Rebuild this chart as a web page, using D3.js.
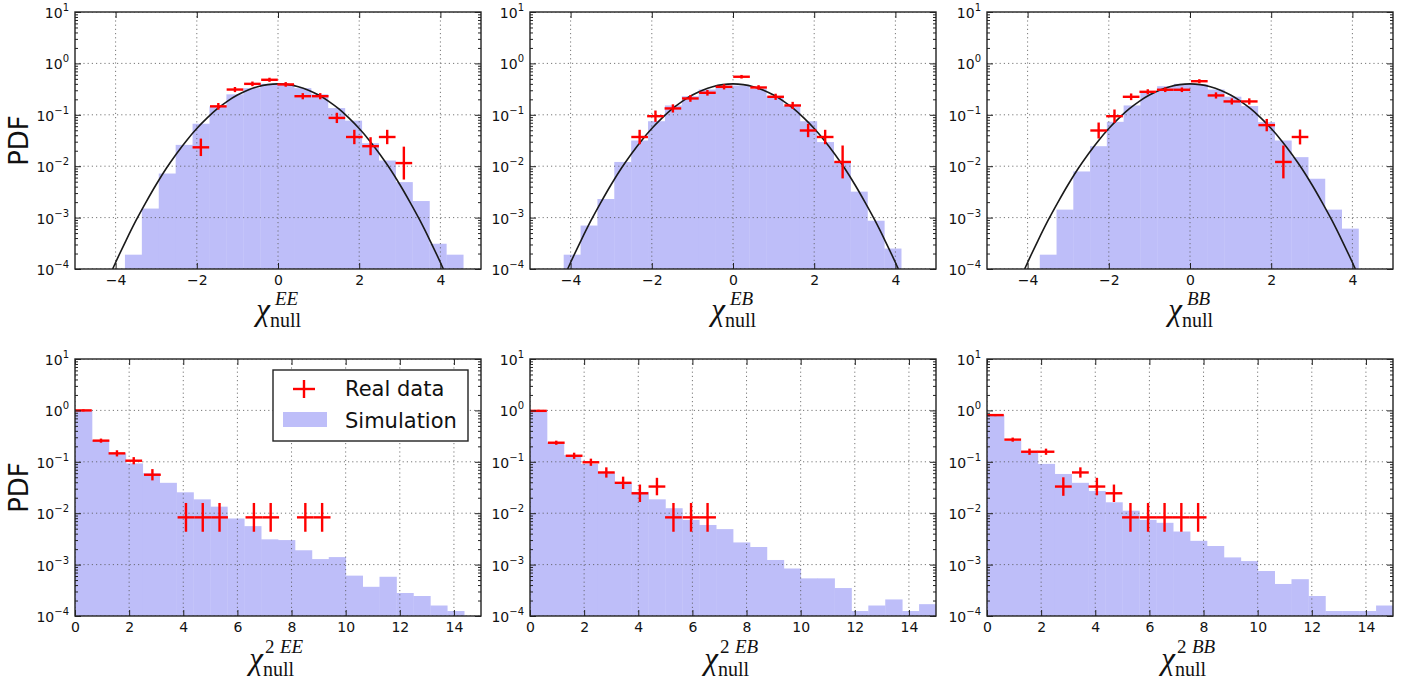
<!DOCTYPE html>
<html><head><meta charset="utf-8">
<script src="https://cdn.jsdelivr.net/npm/d3@7"></script>
<style>body{margin:0;background:#fff}svg{display:block}</style>
</head><body>
<svg id="c" width="1413" height="684"></svg>
<script>
// ---------------- DATA ----------------
const decades = [1e1, 1e0, 1e-1, 1e-2, 1e-3, 1e-4];
const decadeExp = ["1", "0", "\u22121", "\u22122", "\u22123", "\u22124"];
const chiTicks = [-4, -2, 0, 2, 4];
const chi2Ticks = [0, 2, 4, 6, 8, 10, 12, 14];
const chiDomain = [-5, 5];
const chi2Domain = [0, 15];

// Gaussian reference curve
const gaussX = [-4.25,-4.0,-3.75,-3.5,-3.25,-3.0,-2.75,-2.5,-2.25,-2.0,-1.75,-1.5,-1.25,-1.0,-0.75,-0.5,-0.25,0,0.25,0.5,0.75,1.0,1.25,1.5,1.75,2.0,2.25,2.5,2.75,3.0,3.25,3.5,3.75,4.0,4.25];
const gaussY = [4.8e-5,1.34e-4,3.5e-4,8.7e-4,2.0e-3,4.4e-3,9.1e-3,0.0175,0.0317,0.054,0.086,0.13,0.183,0.242,0.301,0.352,0.387,0.399,0.387,0.352,0.301,0.242,0.183,0.13,0.086,0.054,0.0317,0.0175,9.1e-3,4.4e-3,2.0e-3,8.7e-4,3.5e-4,1.34e-4,4.8e-5];

// Simulation histograms: first bin edge, bin width, heights
const simEEStart = -3.77, simEEWidth = 0.4165;
const simEE = [1.9e-4,1.5e-3,7.2e-3,0.026,0.067,0.146,0.25,0.33,0.40,0.39,0.33,0.25,0.135,0.077,0.028,0.0129,0.0049,0.0021,3.1e-4,1.9e-4];
const simEBStart = -4.17, simEBWidth = 0.4155;
const simEB = [1.9e-4,7e-4,2.3e-3,0.0121,0.0316,0.075,0.152,0.23,0.31,0.37,0.37,0.32,0.23,0.148,0.075,0.0295,0.0121,3.2e-3,8.7e-4,2.5e-4];
const simBBStart = -3.70, simBBWidth = 0.413;
const simBB = [1.9e-4,1.43e-3,7.9e-3,0.0245,0.073,0.152,0.27,0.36,0.40,0.39,0.31,0.225,0.148,0.072,0.0316,0.015,0.0057,1.43e-3,6.1e-4];

const sim2Start = 0, sim2Width = 0.625;
const sim2EE = [1.0,0.265,0.146,0.093,0.06,0.039,0.0255,0.0186,0.0134,0.0079,0.0056,0.0031,0.0030,0.0019,0.00128,0.0014,6.1e-4,3.7e-4,5.8e-4,2.8e-4,2.45e-4,1.6e-4,1.25e-4];
const sim2EB = [1.0,0.235,0.135,0.091,0.062,0.039,0.026,0.0186,0.0125,0.0074,0.0059,0.0049,0.0027,0.0022,0.00123,8.4e-4,5.4e-4,5.4e-4,3.5e-4,1.25e-4,1.6e-4,2.1e-4,1.25e-4,1.7e-4];
const sim2BB = [0.81,0.254,0.157,0.091,0.058,0.039,0.027,0.0163,0.0112,0.0074,0.0065,0.0044,0.0029,0.0023,0.00138,0.00117,7.5e-4,4.2e-4,5.2e-4,2.45e-4,1.25e-4,1.25e-4,1.25e-4,1.6e-4];

// Real data points: x, y, vertical error (half-length in decades); horizontal half-width per row
const dataXErrTop = 0.205, dataXErrBottom = 0.31;
const dataEEx = [-1.90,-1.47,-1.06,-0.63,-0.21,0.19,0.61,1.04,1.45,1.88,2.28,2.69,3.10];
const dataEEy = [0.0233,0.146,0.31,0.40,0.48,0.39,0.23,0.23,0.087,0.037,0.0245,0.037,0.0115];
const dataEEe = [0.17,0.065,0.05,0.045,0.04,0.045,0.06,0.06,0.1,0.14,0.175,0.14,0.32];
const dataEBx = [-2.30,-1.91,-1.48,-1.05,-0.63,-0.22,0.21,0.63,1.05,1.47,1.85,2.27,2.70];
const dataEBy = [0.037,0.094,0.133,0.208,0.268,0.35,0.55,0.34,0.224,0.152,0.0495,0.037,0.0121];
const dataEBe = [0.14,0.11,0.08,0.065,0.055,0.05,0.035,0.045,0.06,0.07,0.13,0.14,0.32];
const dataBBx = [-2.25,-1.86,-1.45,-1.04,-0.61,-0.20,0.23,0.64,1.03,1.46,1.89,2.30,2.71];
const dataBBy = [0.0495,0.094,0.224,0.28,0.307,0.307,0.45,0.238,0.182,0.182,0.063,0.0121,0.037];
const dataBBe = [0.155,0.13,0.065,0.05,0.045,0.045,0.04,0.06,0.06,0.06,0.12,0.32,0.145];

const data2EEx = [0.31,0.96,1.55,2.17,2.86,4.10,4.72,5.34,6.61,7.23,8.51,9.13];
const data2EEy = [1.0,0.258,0.146,0.105,0.056,0.0083,0.0083,0.0083,0.0083,0.0083,0.0083,0.0083];
const data2EEe = [0.02,0.04,0.06,0.07,0.11,0.28,0.28,0.28,0.28,0.28,0.28,0.28];
const data2EBx = [0.31,0.97,1.63,2.25,2.82,3.44,4.06,4.69,5.30,5.95,6.56];
const data2EBy = [0.98,0.235,0.131,0.098,0.062,0.039,0.0244,0.033,0.0083,0.0083,0.0083];
const data2EBe = [0.02,0.04,0.06,0.07,0.1,0.12,0.17,0.17,0.28,0.28,0.28];
const data2BBx = [0.31,0.95,1.57,2.18,2.82,3.45,4.06,4.69,5.30,5.95,6.56,7.18,7.80];
const data2BBy = [0.81,0.27,0.157,0.157,0.033,0.062,0.033,0.0244,0.0083,0.0083,0.0083,0.0083,0.0083];
const data2BBe = [0.02,0.04,0.06,0.06,0.18,0.1,0.17,0.17,0.28,0.28,0.28,0.28,0.28];

const spectra = ["EE", "EB", "BB"];
const yLabel = "PDF";
const legendLabels = ["Real data", "Simulation"];

// ---------------- LAYOUT / STYLE ----------------
const colLeft = [75, 530, 987];
const PW = 406;
const rowBox = [{top: 12, bottom: 269}, {top: 359, bottom: 616}];
const histColor = "#bebef9";
const red = "#ff0000";
const ink = "#222";
const tickFont = "'DejaVu Sans', 'Bitstream Vera Sans', sans-serif";
const serif = "'Liberation Serif', 'Times New Roman', serif";

const svg = d3.select("#c");
const defs = svg.append("defs");

const panels = [
  {row:0,col:0,dom:chiDomain,ticks:chiTicks,start:simEEStart,w:simEEWidth,sim:simEE,dx:dataEEx,dy:dataEEy,de:dataEEe,xe:dataXErrTop,gauss:true,spec:"EE",sq:false},
  {row:0,col:1,dom:chiDomain,ticks:chiTicks,start:simEBStart,w:simEBWidth,sim:simEB,dx:dataEBx,dy:dataEBy,de:dataEBe,xe:dataXErrTop,gauss:true,spec:"EB",sq:false},
  {row:0,col:2,dom:chiDomain,ticks:chiTicks,start:simBBStart,w:simBBWidth,sim:simBB,dx:dataBBx,dy:dataBBy,de:dataBBe,xe:dataXErrTop,gauss:true,spec:"BB",sq:false},
  {row:1,col:0,dom:chi2Domain,ticks:chi2Ticks,start:sim2Start,w:sim2Width,sim:sim2EE,dx:data2EEx,dy:data2EEy,de:data2EEe,xe:dataXErrBottom,gauss:false,spec:"EE",sq:true,legend:true},
  {row:1,col:1,dom:chi2Domain,ticks:chi2Ticks,start:sim2Start,w:sim2Width,sim:sim2EB,dx:data2EBx,dy:data2EBy,de:data2EBe,xe:dataXErrBottom,gauss:false,spec:"EB",sq:true},
  {row:1,col:2,dom:chi2Domain,ticks:chi2Ticks,start:sim2Start,w:sim2Width,sim:sim2BB,dx:data2BBx,dy:data2BBy,de:data2BBe,xe:dataXErrBottom,gauss:false,spec:"BB",sq:true}
];

panels.forEach((p, idx) => {
  const L = colLeft[p.col], R = L + PW;
  const T = rowBox[p.row].top, B = rowBox[p.row].bottom;
  const x = d3.scaleLinear().domain(p.dom).range([L, R]);
  const y = d3.scaleLog().domain([1e-4, 10]).range([B, T]);
  const cid = "clip" + idx;
  defs.append("clipPath").attr("id", cid).append("rect").attr("x", L).attr("y", T).attr("width", PW).attr("height", B - T);
  const g = svg.append("g");
  const cg = g.append("g").attr("clip-path", `url(#${cid})`);

  // histogram
  const bins = p.sim.map((v, i) => ({x0: p.start + i * p.w, x1: p.start + (i + 1) * p.w, v}));
  cg.selectAll("rect.bar").data(bins).join("rect").attr("class","bar")
    .attr("x", d => x(d.x0)).attr("width", d => x(d.x1) - x(d.x0) + 0.4)
    .attr("y", d => y(d.v)).attr("height", d => B - y(d.v))
    .attr("fill", histColor);

  // grid
  cg.selectAll("line.gx").data(p.ticks).join("line").attr("class","gx")
    .attr("x1", d => x(d)).attr("x2", d => x(d)).attr("y1", T).attr("y2", B)
    .attr("stroke", "#555").attr("stroke-width", 0.8).attr("stroke-dasharray", "1.2,3");
  cg.selectAll("line.gy").data(decades).join("line").attr("class","gy")
    .attr("y1", d => y(d)).attr("y2", d => y(d)).attr("x1", L).attr("x2", R)
    .attr("stroke", "#555").attr("stroke-width", 0.8).attr("stroke-dasharray", "1.2,3");

  // gaussian
  if (p.gauss) {
    const line = d3.line().x(d => x(d[0])).y(d => y(d[1])).curve(d3.curveCatmullRom);
    cg.append("path").datum(gaussX.map((gx, i) => [gx, gaussY[i]]))
      .attr("d", line).attr("fill", "none").attr("stroke", "#1a1a1a").attr("stroke-width", 1.6);
  }

  // data crosses
  const pts = p.dx.map((dx, i) => ({x: dx, y: p.dy[i], e: p.de[i]}));
  const pg = cg.append("g").attr("stroke", red).attr("stroke-width", 2.4);
  pg.selectAll("line.h").data(pts).join("line").attr("class","h")
    .attr("x1", d => x(d.x - p.xe)).attr("x2", d => x(d.x + p.xe))
    .attr("y1", d => y(d.y)).attr("y2", d => y(d.y));
  pg.selectAll("line.v").data(pts).join("line").attr("class","v")
    .attr("x1", d => x(d.x)).attr("x2", d => x(d.x))
    .attr("y1", d => y(d.y * Math.pow(10, d.e))).attr("y2", d => y(d.y / Math.pow(10, d.e)));

  // axes (ticks inside)
  const minor = [];
  for (let e = -4; e < 1; e++) for (let k = 2; k < 10; k++) minor.push(k * Math.pow(10, e));
  const styleAxis = s => { s.select(".domain").remove(); s.selectAll("line").attr("stroke", ink).attr("stroke-width", 1); };
  g.append("g").attr("transform", `translate(0,${B})`)
    .call(d3.axisBottom(x).tickValues(p.ticks).tickSize(-6).tickPadding(6))
    .call(styleAxis)
    .call(s => s.selectAll("text").attr("font-family", tickFont).attr("font-size", 14).attr("fill", "#111"));
  g.append("g").attr("transform", `translate(0,${T})`)
    .call(d3.axisTop(x).tickValues(p.ticks).tickSize(-6).tickFormat(""))
    .call(styleAxis);
  g.append("g").attr("transform", `translate(${L},0)`)
    .call(d3.axisLeft(y).tickValues(decades).tickSize(-6).tickFormat(""))
    .call(styleAxis);
  g.append("g").attr("transform", `translate(${L},0)`)
    .call(d3.axisLeft(y).tickValues(minor).tickSize(-3).tickFormat(""))
    .call(styleAxis);
  g.append("g").attr("transform", `translate(${R},0)`)
    .call(d3.axisRight(y).tickValues(decades).tickSize(-6).tickFormat(""))
    .call(styleAxis);
  g.append("g").attr("transform", `translate(${R},0)`)
    .call(d3.axisRight(y).tickValues(minor).tickSize(-3).tickFormat(""))
    .call(styleAxis);

  // y tick labels 10^n
  decades.forEach((d, i) => {
    const t = g.append("text").attr("x", L - 6).attr("y", y(d) + 6)
      .attr("text-anchor", "end").attr("font-family", tickFont).attr("font-size", 14).attr("fill", "#111");
    t.append("tspan").text("10");
    t.append("tspan").attr("dy", -7).attr("font-size", 10).text(decadeExp[i]);
  });

  // frame
  g.append("rect").attr("x", L).attr("y", T).attr("width", PW).attr("height", B - T)
    .attr("fill", "none").attr("stroke", ink).attr("stroke-width", 1.4);

  // x label
  const cx = (L + R) / 2;
  const lab = (txt, xx, yy, size, italic, anchor) => g.append("text").attr("x", xx).attr("y", yy)
    .attr("text-anchor", anchor || "start").attr("font-family", serif).attr("font-size", size)
    .attr("font-style", italic ? "italic" : "normal").attr("fill", "#111").text(txt);
  if (!p.sq) {
    lab("\u03c7", cx - 8, 320, 31, true, "end");
    lab("null", cx - 8, 327, 20, false);
    lab(p.spec, cx - 3, 305, 19, true);
  } else {
    lab("\u03c7", cx - 15, 669, 31, true, "end");
    lab("null", cx - 15, 676, 20, false);
    lab("2", cx - 13, 653, 19, false);
    lab(p.spec, cx + 2, 653, 19, true);
  }

  // y label
  if (p.col === 0) {
    const cy = (T + B) / 2;
    svg.append("text").attr("transform", `translate(28,${cy}) rotate(-90)`)
      .attr("text-anchor", "middle").attr("font-family", tickFont).attr("font-size", 26).attr("fill", "#111").text(yLabel);
  }

  // legend
  if (p.legend) {
    const lg = g.append("g");
    lg.append("rect").attr("x", 273).attr("y", 370).attr("width", 195).attr("height", 71)
      .attr("fill", "#fff").attr("stroke", ink).attr("stroke-width", 1.4);
    lg.append("line").attr("x1", 293).attr("x2", 315).attr("y1", 389).attr("y2", 389).attr("stroke", red).attr("stroke-width", 2.4);
    lg.append("line").attr("x1", 304).attr("x2", 304).attr("y1", 380).attr("y2", 398).attr("stroke", red).attr("stroke-width", 2.4);
    lg.append("rect").attr("x", 283).attr("y", 412).attr("width", 44).attr("height", 15).attr("fill", histColor);
    lg.append("text").attr("x", 345).attr("y", 396).attr("font-family", tickFont).attr("font-size", 21).attr("fill", "#111").text(legendLabels[0]);
    lg.append("text").attr("x", 345).attr("y", 428).attr("font-family", tickFont).attr("font-size", 21).attr("fill", "#111").text(legendLabels[1]);
  }
});
</script>
</body></html>
